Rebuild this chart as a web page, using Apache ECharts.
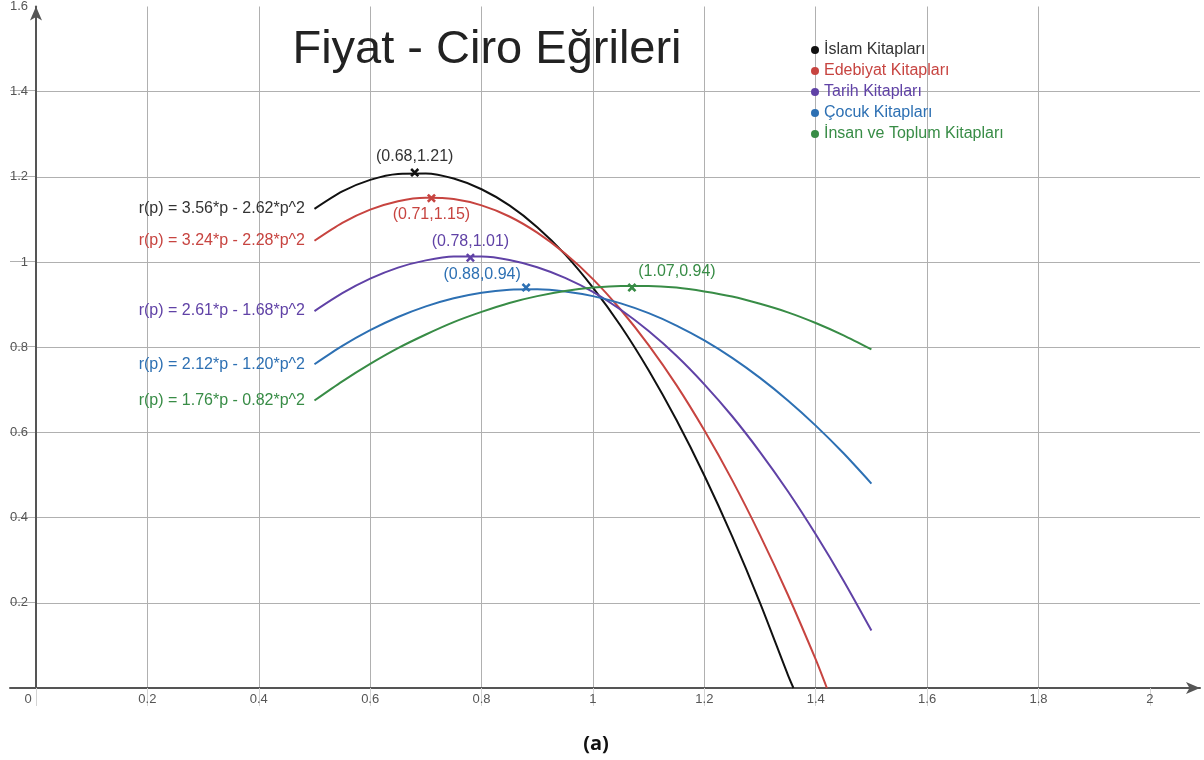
<!DOCTYPE html>
<html>
<head>
<meta charset="utf-8">
<script src="https://cdn.jsdelivr.net/npm/echarts@6/dist/echarts.min.js"></script>
<style>
  html, body { margin: 0; padding: 0; background: #fff; }
  #main { width: 1204px; height: 760px; }
</style>
</head>
<body>
<div id="main"></div>
<script>
// fiyat noktaları (p)
var pFull = [0.5, 0.55, 0.6, 0.65, 0.7, 0.75, 0.8, 0.85, 0.9, 0.95, 1.0, 1.05, 1.1, 1.15, 1.2, 1.25, 1.3, 1.35, 1.4, 1.45, 1.5];
var pIslam = [0.5, 0.55, 0.6, 0.65, 0.7, 0.75, 0.8, 0.85, 0.9, 0.95, 1.0, 1.05, 1.1, 1.15, 1.2, 1.25, 1.3, 1.35, 1.36];
var pEdebiyat = [0.5, 0.55, 0.6, 0.65, 0.7, 0.75, 0.8, 0.85, 0.9, 0.95, 1.0, 1.05, 1.1, 1.15, 1.2, 1.25, 1.3, 1.35, 1.4, 1.42];

// ciro değerleri (r)
var rIslam = [1.125, 1.166, 1.193, 1.207, 1.208, 1.196, 1.171, 1.133, 1.082, 1.018, 0.94, 0.850, 0.746, 0.629, 0.499, 0.356, 0.200, 0.031, 0];
var rEdebiyat = [1.05, 1.092, 1.123, 1.143, 1.151, 1.148, 1.133, 1.107, 1.069, 1.020, 0.96, 0.888, 0.805, 0.711, 0.605, 0.488, 0.359, 0.219, 0.067, 0];
var rTarih = [0.885, 0.927, 0.961, 0.987, 1.004, 1.013, 1.013, 1.005, 0.988, 0.963, 0.93, 0.888, 0.838, 0.780, 0.713, 0.638, 0.554, 0.462, 0.361, 0.252, 0.135];
var rCocuk = [0.76, 0.803, 0.84, 0.871, 0.896, 0.915, 0.928, 0.935, 0.936, 0.931, 0.92, 0.903, 0.88, 0.851, 0.816, 0.775, 0.728, 0.675, 0.616, 0.551, 0.48];
var rInsan = [0.675, 0.720, 0.761, 0.798, 0.830, 0.859, 0.883, 0.904, 0.920, 0.932, 0.94, 0.944, 0.944, 0.940, 0.931, 0.919, 0.902, 0.882, 0.857, 0.828, 0.795];

var names = ["İslam Kitapları", "Edebiyat Kitapları", "Tarih Kitapları", "Çocuk Kitapları", "İnsan ve Toplum Kitapları"];
var equations = [
  "r(p) = 3.56*p - 2.62*p^2",
  "r(p) = 3.24*p - 2.28*p^2",
  "r(p) = 2.61*p - 1.68*p^2",
  "r(p) = 2.12*p - 1.20*p^2",
  "r(p) = 1.76*p - 0.82*p^2"
];
// tepe noktaları
var peakP = [0.68, 0.71, 0.78, 0.88, 1.07];
var peakR = [1.21, 1.15, 1.01, 0.94, 0.94];

var lineColors = ["#111111", "#c74440", "#6042a6", "#2d70b3", "#388c46"];
var textColors = ["#333333", "#c74440", "#6042a6", "#2d70b3", "#388c46"];

var xTicks = [0, 0.2, 0.4, 0.6, 0.8, 1, 1.2, 1.4, 1.6, 1.8, 2];

var gridColor = "#b0b0b0";
var axisColor = "#555555";
var xMark = "path://M2,0L5,3L8,0L10,2L7,5L10,8L8,10L5,7L2,10L0,8L3,5L0,2Z";

function zip(xs, ys) {
  return xs.map(function (x, i) { return [x, ys[i]]; });
}

var curves = [
  zip(pIslam, rIslam),
  zip(pEdebiyat, rEdebiyat),
  zip(pFull, rTarih),
  zip(pFull, rCocuk),
  zip(pFull, rInsan)
];

// tepe etiket konumları
var peakLabelPos = ["top", "bottom", "top", "top", "top"];
var peakLabelOffset = [[0, 0], [0, 0], [0, 0], [-44, 3], [45, 0]];

var series = curves.map(function (pts, i) {
  return {
    name: names[i],
    type: "line",
    data: pts,
    smooth: 0.25,
    showSymbol: false,
    clip: true,
    color: lineColors[i],
    lineStyle: { width: 2, color: lineColors[i] },
    emphasis: { disabled: true },
    markPoint: {
      animation: false,
      data: [
        {
          coord: [peakP[i], peakR[i]],
          symbol: xMark,
          symbolSize: 9,
          itemStyle: { color: lineColors[i] },
          label: {
            show: true,
            position: peakLabelPos[i],
            distance: 4,
            offset: peakLabelOffset[i],
            formatter: "(" + peakP[i] + "," + peakR[i].toFixed(2) + ")",
            color: textColors[i],
            fontSize: 16,
            fontFamily: "Liberation Sans"
          }
        },
        {
          coord: [pts[0][0], pts[0][1]],
          symbol: "circle",
          symbolSize: 1,
          itemStyle: { color: "transparent" },
          label: {
            show: true,
            position: "left",
            distance: 9,
            formatter: equations[i],
            color: textColors[i],
            fontSize: 16,
            fontFamily: "Liberation Sans"
          }
        }
      ]
    }
  };
});

var chart = echarts.init(document.getElementById("main"));

var option = {
  animation: false,
  backgroundColor: "#ffffff",
  title: [
    {
      text: "Fiyat - Ciro Eğrileri",
      left: 482,
      top: 22,
      textAlign: "center",
      textStyle: { fontSize: 47, fontWeight: "normal", color: "#222", fontFamily: "Liberation Sans" }
    },
    {
      text: "(a)",
      left: 591,
      top: 729,
      textAlign: "center",
      textStyle: { fontSize: 20, fontWeight: "bold", color: "#111", fontFamily: "Open Sans" }
    }
  ],
  legend: {
    orient: "vertical",
    left: 806,
    top: 37,
    icon: "circle",
    itemWidth: 8,
    itemHeight: 8,
    itemGap: 5,
    textStyle: { fontSize: 16, fontFamily: "Liberation Sans" },
    data: names.map(function (n, i) {
      return { name: n, textStyle: { color: textColors[i] } };
    })
  },
  grid: [
    { left: 36, right: 4, top: 5, bottom: 72 },
    { left: 10, width: 26, top: 5, bottom: 72 }
  ],
  xAxis: [
    {
      type: "value",
      gridIndex: 0,
      min: 0,
      max: 2.09,
      interval: 0.2,
      axisLine: {
        show: true,
        onZero: false,
        symbol: ["none", "arrow"],
        symbolSize: [9, 14],
        lineStyle: { color: axisColor, width: 2 }
      },
      axisTick: {
        show: true,
        length: 18,
        customValues: xTicks,
        lineStyle: { color: "#d4d4d4", width: 1 }
      },
      axisLabel: {
        customValues: xTicks,
        margin: 5,
        color: "#555",
        fontSize: 13,
        fontFamily: "Liberation Sans",
        formatter: function (v) {
          return v === 0 ? "{z|0}" : String(v);
        },
        rich: { z: { padding: [0, 16, 0, 0], fontSize: 13, color: "#555" } }
      },
      splitLine: { show: true, showMaxLine: false, lineStyle: { color: gridColor, width: 1 } }
    },
    {
      type: "value",
      gridIndex: 1,
      min: 0,
      max: 1,
      axisLine: { show: true, onZero: false, lineStyle: { color: axisColor, width: 2 } },
      axisTick: { show: false },
      axisLabel: { show: false },
      splitLine: { show: false }
    }
  ],
  yAxis: [
    {
      type: "value",
      gridIndex: 0,
      min: 0,
      max: 1.6,
      interval: 0.2,
      axisLine: {
        show: true,
        onZero: false,
        symbol: ["none", "arrow"],
        symbolSize: [9, 14],
        lineStyle: { color: axisColor, width: 2 }
      },
      axisTick: { show: false },
      axisLabel: {
        showMinLabel: false,
        margin: 8,
        color: "#555",
        fontSize: 13,
        fontFamily: "Liberation Sans"
      },
      splitLine: { show: true, showMaxLine: false, lineStyle: { color: gridColor, width: 1 } }
    },
    {
      type: "value",
      gridIndex: 1,
      min: 0,
      max: 1.6,
      interval: 0.2,
      axisLine: { show: false },
      axisTick: { show: false },
      axisLabel: { show: false },
      splitLine: { show: true, showMaxLine: false, lineStyle: { color: gridColor, width: 1 } }
    }
  ],
  series: series
};

chart.setOption(option);
</script>
</body>
</html>
